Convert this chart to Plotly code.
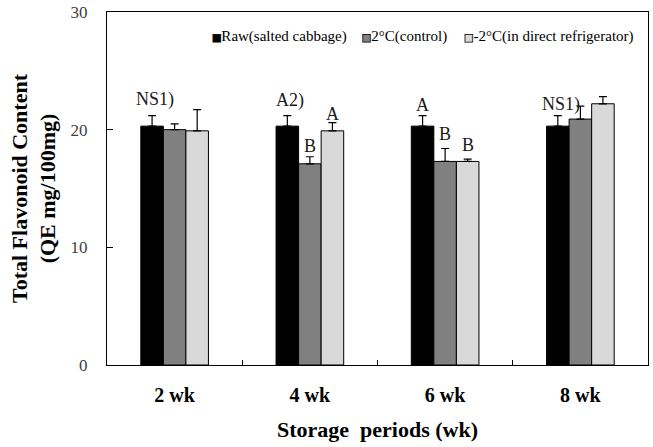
import plotly.graph_objects as go

categories = ["2 wk", "4 wk", "6 wk", "8 wk"]
series_names = ["Raw(salted cabbage)", "2°C(control)", "-2°C(in direct refrigerator)"]
raw_vals = [20.3, 20.3, 20.3, 20.3]
raw_err = [0.9, 0.9, 0.9, 0.9]
c2_vals = [20.0, 17.1, 17.3, 20.9]
c2_err = [0.5, 0.6, 1.1, 1.1]
m2_vals = [19.9, 19.9, 17.3, 22.2]
m2_err = [1.8, 0.7, 0.2, 0.6]
colors = ["#000000", "#808080", "#d9d9d9"]

# significance labels: (category, series index, text, y value)
sig_labels = [
    ("2 wk", 0, "NS1)", 22.55),
    ("4 wk", 0, "A2)", 22.5),
    ("4 wk", 1, "B", 18.6),
    ("4 wk", 2, "A", 21.35),
    ("6 wk", 0, "A", 22.1),
    ("6 wk", 1, "B", 19.65),
    ("6 wk", 2, "B", 18.7),
    ("8 wk", 0, "NS1)", 22.1),
]

serif = "Liberation Serif, Times New Roman, serif"
legend_ids = ["legend", "legend2", "legend3"]
legend_x = [0.120, 0.397, 0.586]

fig = go.Figure()
for name, vals, errs, col in zip(series_names, [raw_vals, c2_vals, m2_vals],
                                 [raw_err, c2_err, m2_err], colors):
    fig.add_trace(go.Bar(
        x=categories, y=vals, name=name, showlegend=False,
        marker=dict(color=col, line=dict(color="#000000", width=1)),
        error_y=dict(type="data", array=errs, symmetric=False, arrayminus=[0]*4,
                     color="#000000", thickness=1.2, width=4),
    ))
# legend entries: small bordered square swatch drawn right before the text
for name, col, lid in zip(series_names, colors, legend_ids):
    swatch = (f"<span style='font-family:DejaVu Sans;font-size:10px;fill:{col};"
              f"stroke:#000000;stroke-width:0.8px'>■</span>")
    fig.add_trace(go.Scatter(
        x=[None], y=[None], mode="markers", name=swatch + name, legend=lid,
        marker=dict(symbol="square", size=1, color="rgba(0,0,0,0)",
                    line=dict(width=0)),
    ))

bar_px = 22.5
for cat, si, txt, yv in sig_labels:
    shift = (si - 1) * bar_px + (3 if txt.endswith(")") else 0)
    fig.add_annotation(x=cat, y=yv, text=txt, showarrow=False, xref="x", yref="y",
                       xshift=shift, yanchor="middle",
                       font=dict(family=serif, size=18, color="#1a1a1a"))

leg_common = dict(orientation="h", y=0.935, xanchor="left", yanchor="middle",
                  font=dict(family=serif, size=15, color="#000000"),
                  bgcolor="rgba(0,0,0,0)", itemwidth=30)

fig.update_layout(
    width=653, height=447,
    margin=dict(l=107, r=5, t=12, b=82, autoexpand=False),
    paper_bgcolor="white", plot_bgcolor="white",
    barmode="group", bargap=0.5, bargroupgap=0,
    showlegend=True,
    legend=dict(x=legend_x[0], **leg_common),
    legend2=dict(x=legend_x[1], **leg_common),
    legend3=dict(x=legend_x[2], **leg_common),
    font=dict(family=serif),
    xaxis=dict(
        automargin=False,
        showline=True, linecolor="#000000", linewidth=1.2, mirror=True,
        ticks="inside", ticklen=5, tickcolor="#000000", tickson="boundaries",
        ticklabelstandoff=12,
        tickfont=dict(family=serif, size=20, color="#000000", weight="bold"),
        title=dict(text="Storage  periods (wk)", standoff=16,
                   font=dict(family=serif, size=22, color="#000000", weight="bold")),
    ),
    yaxis=dict(
        automargin=False,
        range=[0, 30], tickvals=[0, 10, 20, 30],
        showline=True, linecolor="#000000", linewidth=1.2, mirror=True,
        ticks="inside", ticklen=6, tickcolor="#000000",
        showgrid=False, zeroline=False,
        ticklabelstandoff=15,
        tickfont=dict(family=serif, size=17, color="#404040"),
        title=dict(text="Total Flavonoid Content<br>(QE mg/100mg)", standoff=8,
                   font=dict(family=serif, size=22, color="#000000", weight="bold")),
    ),
)

fig.write_html("out.html", config={"displayModeBar": False},
               post_script="document.body.style.margin='0';")
